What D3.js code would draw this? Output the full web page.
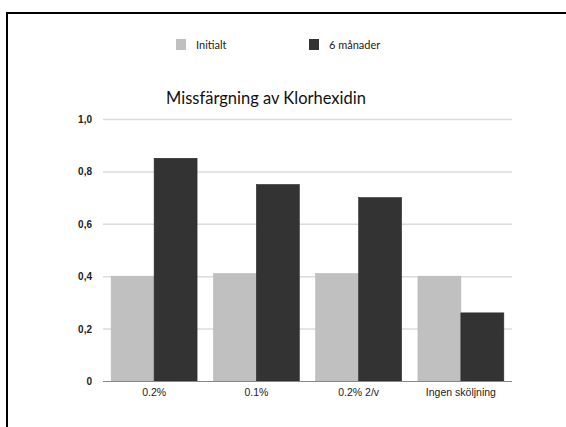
<!DOCTYPE html>
<html>
<head>
<meta charset="utf-8">
<title>Missfärgning av Klorhexidin</title>
<style>
  body { margin: 0; background: #fff; font-family: "Lato", "Open Sans", sans-serif; }
  svg { display: block; }
  .grid line { stroke: #dcdcdc; stroke-width: 1.5; }
  .grid path { display: none; }
  .axisY path, .axisY line { display: none; }
  .axisY text { font-size: 10px; fill: #222; font-weight: 700; }
  .axisX path { stroke: #888; }
  .axisX line { display: none; }
  .axisX text { font-size: 10.5px; fill: #222; }
</style>
</head>
<body>
<svg width="566" height="427"></svg>
<script src="https://d3js.org/d3.v7.min.js"></script>
<script>
var categories = ["0.2%", "0.1%", "0.2% 2/v", "Ingen sköljning"];
var seriesNames = ["Initialt", "6 månader"];
var initialt = [0.40, 0.41, 0.41, 0.40];
var manader6 = [0.85, 0.75, 0.70, 0.26];
var yTicks = [0, 0.2, 0.4, 0.6, 0.8, 1.0];
var colors = ["#c0c0c0", "#333333"];

var svg = d3.select("svg");

// frame
svg.append("rect")
  .attr("x", 7).attr("y", 13)
  .attr("width", 600).attr("height", 500)
  .attr("fill", "none").attr("stroke", "#000").attr("stroke-width", 2);

var margin = {left: 103, right: 54, top: 119, bottom: 46},
    width = 566 - margin.left - margin.right,
    height = 427 - margin.top - margin.bottom;

var g = svg.append("g").attr("transform", "translate(" + margin.left + "," + margin.top + ")");

var x0 = d3.scaleBand().domain(categories).range([0, width]).paddingInner(0.16).paddingOuter(0.08);
var x1 = d3.scaleBand().domain(seriesNames).range([0, x0.bandwidth()]);
var y = d3.scaleLinear().domain([0, 1]).range([height, 0]);
var z = d3.scaleOrdinal().domain(seriesNames).range(colors);

g.append("g")
  .attr("class", "grid")
  .call(d3.axisLeft(y).tickValues(yTicks.slice(1)).tickSize(-width).tickFormat(""));

var data = categories.map(function(c, i) {
  return {cat: c, values: [{key: seriesNames[0], value: initialt[i]}, {key: seriesNames[1], value: manader6[i]}]};
});

g.append("g").selectAll("g")
  .data(data)
  .enter().append("g")
  .attr("transform", function(d) { return "translate(" + x0(d.cat) + ",0)"; })
  .selectAll("rect")
  .data(function(d) { return d.values; })
  .enter().append("rect")
  .attr("x", function(d) { return x1(d.key); })
  .attr("y", function(d) { return y(d.value); })
  .attr("width", x1.bandwidth())
  .attr("height", function(d) { return height - y(d.value); })
  .attr("fill", function(d) { return z(d.key); })
  .attr("stroke", function(d, i) { return i ? "#2a2a2a" : "#b8b8b8"; })
  .attr("stroke-width", 0.6);

g.append("g")
  .attr("class", "axisX")
  .attr("transform", "translate(0," + height + ")")
  .call(d3.axisBottom(x0).tickSize(0).tickPadding(8))
  .select(".domain").attr("d", "M0,0.5H" + width);

g.append("g")
  .attr("class", "axisY")
  .call(d3.axisLeft(y).tickValues(yTicks).tickSize(0).tickPadding(11)
    .tickFormat(function(d) { return d === 0 ? "0" : d3.format(".1f")(d).replace(".", ","); }))
  .selectAll("text").attr("dy", "0.35em");

// title
svg.append("text")
  .attr("x", 266).attr("y", 104)
  .attr("text-anchor", "middle")
  .attr("font-size", 16.5)
  .attr("fill", "#111")
  .text("Missfärgning av Klorhexidin");

// legend
var legendX = [176, 309];
var legend = svg.selectAll(".legend")
  .data(seriesNames)
  .enter().append("g")
  .attr("transform", function(d, i) { return "translate(" + legendX[i] + ",39)"; });

legend.append("rect")
  .attr("width", 10).attr("height", 11)
  .attr("fill", z);

legend.append("text")
  .attr("x", 20).attr("y", 9.5)
  .attr("font-size", 11)
  .attr("fill", "#222")
  .text(function(d) { return d; });
</script>
</body>
</html>
